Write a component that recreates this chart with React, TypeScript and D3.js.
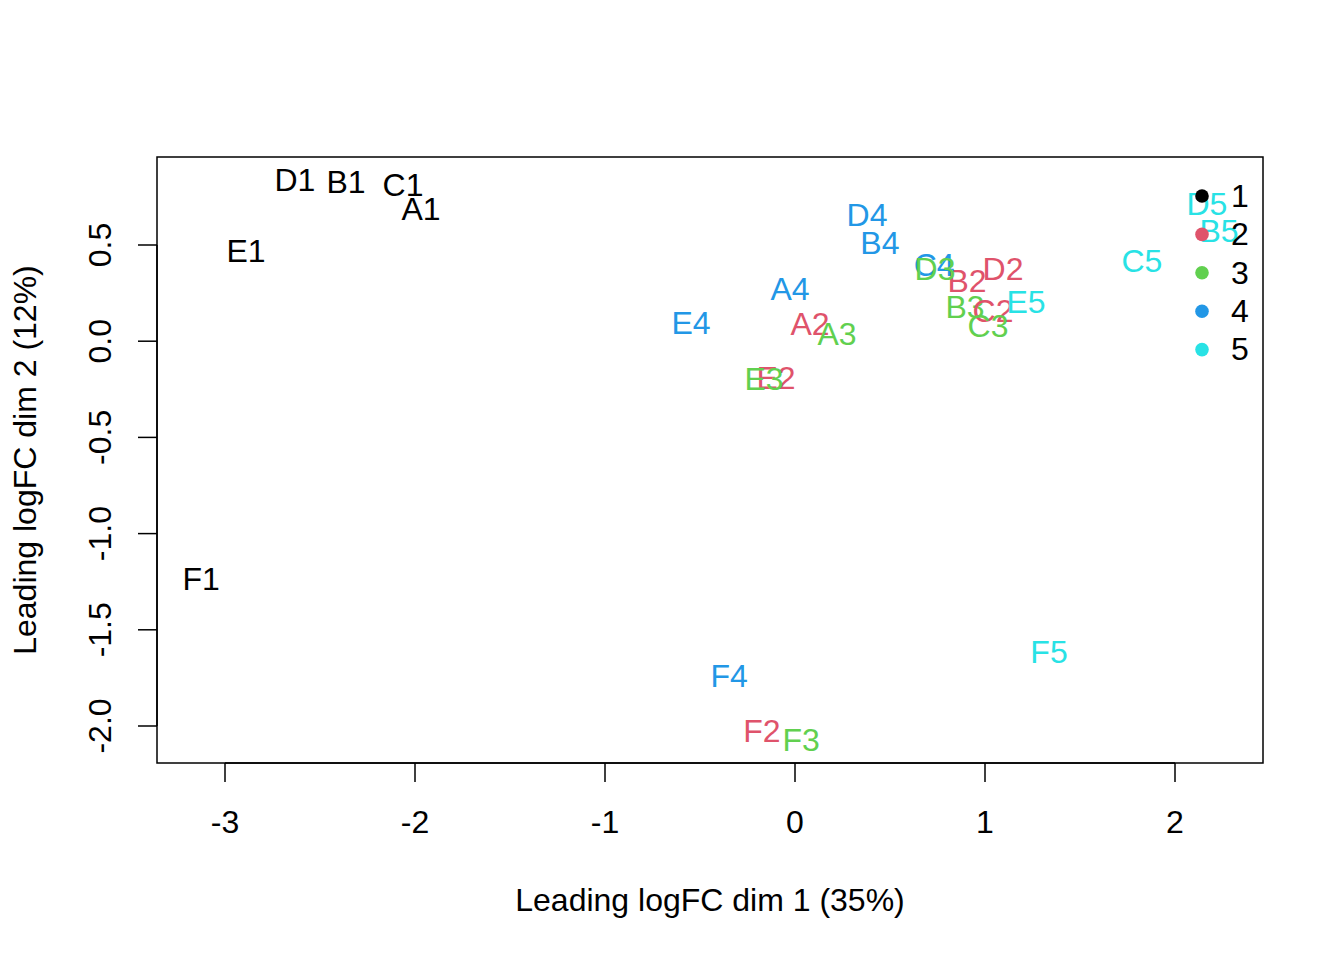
import * as d3 from "d3";

// MDS coordinates, in sample order (A..F, groups 1..5)
const labels = [
    "A1", "A2", "A3", "A4",
    "B1", "B2", "B3", "B4", "B5",
    "C1", "C2", "C3", "C4", "C5",
    "D1", "D2", "D3", "D4", "D5",
    "E1", "E2", "E3", "E4", "E5",
    "F1", "F2", "F3", "F4", "F5",
];
const groups = [
    1, 2, 3, 4,
    1, 2, 3, 4, 5,
    1, 2, 3, 4, 5,
    1, 2, 3, 4, 5,
    1, 2, 3, 4, 5,
    1, 2, 3, 4, 5,
];
const dim1 = [
    -1.968, 0.079, 0.221, -0.026,
    -2.363, 0.905, 0.895, 0.447, 2.232,
    -2.063, 1.042, 1.016, 0.732, 1.826,
    -2.632, 1.095, 0.737, 0.379, 2.168,
    -2.889, -0.1, -0.163, -0.547, 1.216,
    -3.126, -0.174, 0.032, -0.347, 1.337,
];
const dim2 = [
    0.686, 0.088, 0.036, 0.27,
    0.826, 0.312, 0.177, 0.509, 0.572,
    0.81, 0.156, 0.078, 0.395, 0.416,
    0.837, 0.374, 0.374, 0.655, 0.712,
    0.468, -0.192, -0.198, 0.094, 0.203,
    -1.237, -2.027, -2.074, -1.741, -1.616,
];
const legendKeys = ["1", "2", "3", "4", "5"];
const palette = ["#000000", "#DF536B", "#61D04F", "#2297E6", "#28E2E5"];
const xTicks = [-3, -2, -1, 0, 1, 2];
const yTicks = [0.5, 0.0, -0.5, -1.0, -1.5, -2.0];

const W = 1344;
const H = 960;
const box = { left: 157, right: 1263, top: 157, bottom: 763 };
const FONT = "'Liberation Sans', Arial, Helvetica, sans-serif";
const FS = 32;

// R prints a plain hyphen, not the unicode minus d3 uses
const fmtY = (v: number) => d3.format(".1f")(v).replace("\u2212", "-");

export default function App() {
    const x = d3.scaleLinear().domain([-3, 2]).range([225, 1175]);
    const y = d3.scaleLinear().domain([-2, 0.5]).range([726, 245]);
    const color = d3.scaleOrdinal<string, string>().domain(legendKeys).range(palette);

    return (
        <div style={{ position: "absolute", left: 0, top: 0 }}>
            <svg width={W} height={H} style={{ display: "block", background: "#fff" }} fontFamily={FONT}>
                {/* sample labels */}
                {labels.map((lab, i) => (
                    <text
                        key={lab}
                        x={x(dim1[i])}
                        y={y(dim2[i])}
                        dy="0.34em"
                        textAnchor="middle"
                        fontSize={FS}
                        fill={color(String(groups[i]))}
                    >
                        {lab}
                    </text>
                ))}

                {/* legend */}
                {legendKeys.map((k, i) => (
                    <g key={k} transform={`translate(1202,${196 + i * 38.4})`}>
                        <circle r={6.8} fill={color(k)} />
                        <text x={38} dy="0.34em" textAnchor="middle" fontSize={FS} fill="#000">
                            {k}
                        </text>
                    </g>
                ))}

                {/* plot box */}
                <rect
                    x={box.left}
                    y={box.top}
                    width={box.right - box.left}
                    height={box.bottom - box.top}
                    fill="none"
                    stroke="#000"
                    strokeWidth={1.5}
                />

                {/* x axis */}
                <line x1={x(-3)} x2={x(2)} y1={box.bottom} y2={box.bottom} stroke="#000" strokeWidth={1.5} />
                {xTicks.map((t) => (
                    <g key={t} transform={`translate(${x(t)},0)`}>
                        <line y1={box.bottom} y2={box.bottom + 19} stroke="#000" strokeWidth={1.5} />
                        <text y={822} dy="0.34em" textAnchor="middle" fontSize={FS}>
                            {String(t)}
                        </text>
                    </g>
                ))}

                {/* y axis */}
                <line x1={box.left} x2={box.left} y1={y(0.5)} y2={y(-2)} stroke="#000" strokeWidth={1.5} />
                {yTicks.map((t) => (
                    <g key={t} transform={`translate(0,${y(t)})`}>
                        <line x1={box.left - 19} x2={box.left} stroke="#000" strokeWidth={1.5} />
                        <text
                            transform="translate(100,0) rotate(-90)"
                            dy="0.34em"
                            textAnchor="middle"
                            fontSize={FS}
                        >
                            {fmtY(t)}
                        </text>
                    </g>
                ))}

                {/* axis titles */}
                <text x={(box.left + box.right) / 2} y={900} dy="0.34em" textAnchor="middle" fontSize={FS}>
                    Leading logFC dim 1 (35%)
                </text>
                <text
                    transform={`translate(25,${(box.top + box.bottom) / 2}) rotate(-90)`}
                    dy="0.34em"
                    textAnchor="middle"
                    fontSize={FS}
                >
                    Leading logFC dim 2 (12%)
                </text>
            </svg>
        </div>
    );
}
